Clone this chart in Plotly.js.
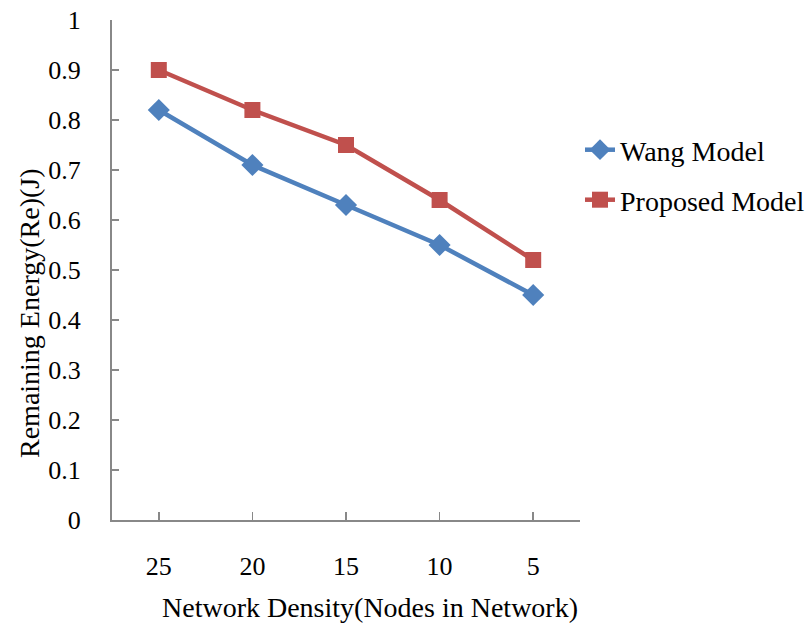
<!DOCTYPE html>
<html>
<head>
<meta charset="utf-8">
<script src="https://cdn.plot.ly/plotly-3.0.1.min.js"></script>
<style>html,body{margin:0;padding:0;background:#fff;}#chart{width:810px;height:627px;}</style>
</head>
<body>
<div id="chart"></div>
<script>
const categories = ['25', '20', '15', '10', '5'];
const wangModel = [0.82, 0.71, 0.63, 0.55, 0.45];
const proposedModel = [0.90, 0.82, 0.75, 0.64, 0.52];
const yTicks = [0, 0.1, 0.2, 0.3, 0.4, 0.5, 0.6, 0.7, 0.8, 0.9, 1];
const yTickText = ['0', '0.1', '0.2', '0.3', '0.4', '0.5', '0.6', '0.7', '0.8', '0.9', '1'];

const xIdx = categories.map((c, i) => i);
const fam = '"Liberation Serif", "Times New Roman", serif';
const tickFont = {family: fam, size: 26, color: '#000'};
const bigFont = {family: fam, size: 28, color: '#000'};

const traces = [
  {x: xIdx, y: wangModel, name: 'Wang Model', mode: 'lines+markers', legend: 'legend',
   line: {color: '#4F81BD', width: 4.5}, marker: {symbol: 'diamond', size: 17, color: '#4F81BD'}},
  {x: xIdx, y: proposedModel, name: 'Proposed Model', mode: 'lines+markers', legend: 'legend2',
   line: {color: '#C0504D', width: 4.5}, marker: {symbol: 'square', size: 16, color: '#C0504D'}}
];

const layout = {
  width: 810, height: 627,
  margin: {l: 112, r: 230, t: 20, b: 107, autoexpand: false},
  paper_bgcolor: '#fff', plot_bgcolor: '#fff',
  font: tickFont,
  showlegend: true,
  legend: {x: 1.0, y: 0.74, xanchor: 'left', yanchor: 'middle', font: bigFont, bgcolor: 'rgba(0,0,0,0)'},
  legend2: {x: 1.0, y: 0.64, xanchor: 'left', yanchor: 'middle', font: bigFont, bgcolor: 'rgba(0,0,0,0)'},
  xaxis: {
    range: [-0.5, 4.5], showgrid: false, zeroline: false,
    showline: true, linecolor: '#888', linewidth: 2,
    tickmode: 'array', tickvals: xIdx.concat([4.5]), ticktext: categories.concat(['']),
    ticks: 'inside', ticklen: 8, tickcolor: '#888', tickwidth: 1.5,
    ticklabelstandoff: 22, tickfont: tickFont
  },
  yaxis: {
    range: [0, 1], showgrid: false, zeroline: false,
    showline: true, linecolor: '#888', linewidth: 2,
    tickmode: 'array', tickvals: yTicks, ticktext: yTickText,
    ticks: 'inside', ticklen: 7, tickcolor: '#888', tickwidth: 1.5,
    ticklabelstandoff: 24, tickfont: tickFont
  },
  annotations: [
    {text: 'Network Density(Nodes in Network)', xref: 'paper', yref: 'paper',
     x: (370 - 112) / 468, y: -(607 - 520) / 500, xanchor: 'center', yanchor: 'middle',
     showarrow: false, font: bigFont},
    {text: 'Remaining Energy(Re)(J)', xref: 'paper', yref: 'paper',
     x: -(112 - 29) / 468, y: (520 - 313) / 500, xanchor: 'center', yanchor: 'middle',
     textangle: -90, showarrow: false, font: bigFont}
  ]
};

Plotly.newPlot('chart', traces, layout, {displayModeBar: false, staticPlot: true});
</script>
</body>
</html>
